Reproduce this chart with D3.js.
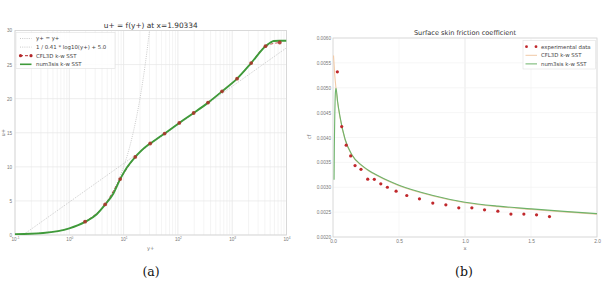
<!DOCTYPE html>
<html lang="en">
<head>
  <meta charset="UTF-8">
  <title>u+ and cf</title>
  <script src="https://d3js.org/d3.v7.min.js"></script>
  <style>
    body { margin: 0; background: #fff; }
    svg { width: 606px; height: 281px; display: block; font-family: "DejaVu Sans", sans-serif; }
  </style>
</head>
<body>
  <svg></svg>

  <script>
    // (a) velocity profile
    const refLinearYPlus = [0.1, 0.3, 1, 2, 3, 5, 7, 10, 14, 20, 25, 30];
    const refLinearUPlus = [0.1, 0.3, 1, 2, 3, 5, 7, 10, 14, 20, 25, 30];
    const refLogYPlus = [0.14, 10000];
    const refLogUPlus = [0, 27.46];

    const cfl3dYPlus = [1.95, 4.57, 8.65, 16.4, 30.9, 56.9, 106, 195, 359, 650, 1230, 2234, 4102, 7516];
    const cfl3dUPlus = [1.95, 4.49, 8.2, 11.46, 13.42, 14.88, 16.44, 17.9, 19.42, 21.07, 22.93, 25.22, 27.7, 28.24];

    const num3sisYPlus = [0.1, 0.33, 1, 1.95, 3.2, 4.57, 6.5, 8.65, 11.5, 16.4, 27, 30.9, 56.9, 106, 195, 359, 650, 1230, 2234, 4102, 5000, 5830, 7500, 10000];
    const num3sisUPlus = [0.1, 0.3, 0.98, 1.92, 3.05, 4.47, 6.1, 8.2, 9.9, 11.45, 13.1, 13.42, 14.88, 16.44, 17.9, 19.42, 21.07, 22.93, 25.22, 27.7, 28.2, 28.45, 28.5, 28.5];

    const yPlusTicks = [-1, 0, 1, 2, 3, 4];
    const uPlusTicks = [0, 5, 10, 15, 20, 25, 30];

    // (b) skin friction
    const expX = [0.033, 0.066, 0.100, 0.134, 0.167, 0.212, 0.263, 0.313, 0.362, 0.412, 0.478, 0.559, 0.655, 0.756, 0.855, 0.953, 1.052, 1.148, 1.249, 1.348, 1.446, 1.542, 1.640];
    const expCf = [0.00532, 0.00422, 0.003845, 0.00363, 0.003436, 0.00336, 0.003163, 0.00316, 0.003068, 0.0030, 0.002922, 0.002834, 0.002767, 0.002681, 0.002647, 0.002586, 0.002586, 0.002546, 0.00252, 0.00246, 0.00246, 0.002446, 0.00241];

    const cfl3dX = [0.004, 0.012, 0.023, 0.035, 0.053, 0.091, 0.142, 0.218, 0.3, 0.357, 0.412, 0.5, 0.75, 1.0, 1.25, 1.5, 1.75, 2.0];
    const cfl3dCf = [0.00565, 0.00530, 0.00498, 0.00470, 0.00440, 0.00396, 0.00365, 0.00343, 0.00328, 0.0032, 0.00313, 0.00303, 0.00283, 0.00269, 0.00261, 0.002556, 0.002505, 0.00246];

    const num3sisX = [0.008, 0.010, 0.014, 0.018, 0.023, 0.035, 0.053, 0.091, 0.142, 0.218, 0.3, 0.357, 0.412, 0.5, 0.75, 1.0, 1.25, 1.5, 1.75, 2.0];
    const num3sisCf = [0.00315, 0.0038, 0.0045, 0.0049, 0.00499, 0.00472, 0.00442, 0.00397, 0.00366, 0.00344, 0.00329, 0.00321, 0.00314, 0.00304, 0.00284, 0.0027, 0.00262, 0.002566, 0.002515, 0.00247];

    const xTicks = [0, 0.5, 1.0, 1.5, 2.0];
    const cfTicks = [0.0020, 0.0025, 0.0030, 0.0035, 0.0040, 0.0045, 0.0050, 0.0055, 0.0060];

    const green = `#3f9a3a`;
    const red = `#b5272a`;
    const svg = d3.select(`svg`);

    function frame(g, x0, x1, y0, y1) {
      g.append(`rect`)
        .attr(`x`, x0).attr(`y`, y1)
        .attr(`width`, x1 - x0).attr(`height`, y0 - y1)
        .attr(`fill`, `none`).attr(`stroke`, `#d4d4d4`).attr(`stroke-width`, 0.8);
    }

    // ---------- left plot ----------
    const L = {left: 15, right: 286.5, top: 30.5, bottom: 235};
    const xL = d3.scaleLog().domain([0.1, 10000]).range([L.left, L.right]);
    const yL = d3.scaleLinear().domain([0, 30]).range([L.bottom, L.top]);
    const gL = svg.append(`g`);

    // grid
    const minor = [];
    for (let e = -1; e < 4; e++) for (let m = 2; m < 10; m++) minor.push(m * Math.pow(10, e));
    gL.selectAll(`.minor`).data(minor).enter().append(`line`)
      .attr(`x1`, d => xL(d)).attr(`x2`, d => xL(d))
      .attr(`y1`, L.top).attr(`y2`, L.bottom)
      .attr(`stroke`, `#ececec`).attr(`stroke-width`, 0.6);
    gL.selectAll(`.major`).data(yPlusTicks).enter().append(`line`)
      .attr(`x1`, d => xL(Math.pow(10, d))).attr(`x2`, d => xL(Math.pow(10, d)))
      .attr(`y1`, L.top).attr(`y2`, L.bottom)
      .attr(`stroke`, `#e2e2e2`).attr(`stroke-width`, 0.7);
    gL.selectAll(`.hgrid`).data(uPlusTicks).enter().append(`line`)
      .attr(`x1`, L.left).attr(`x2`, L.right)
      .attr(`y1`, d => yL(d)).attr(`y2`, d => yL(d))
      .attr(`stroke`, `#e6e6e6`).attr(`stroke-width`, 0.7);
    frame(gL, L.left, L.right, L.bottom, L.top);

    svg.append(`clipPath`).attr(`id`, `clipL`).append(`rect`)
      .attr(`x`, L.left).attr(`y`, L.top).attr(`width`, L.right - L.left).attr(`height`, L.bottom - L.top);
    const plotL = gL.append(`g`).attr(`clip-path`, `url(#clipL)`);

    const lineL = d3.line().x(d => xL(d[0])).y(d => yL(d[1]));
    const smoothL = d3.line().x(d => xL(d[0])).y(d => yL(d[1])).curve(d3.curveMonotoneX);

    plotL.append(`path`).datum(d3.zip(refLinearYPlus, refLinearUPlus))
      .attr(`d`, smoothL).attr(`fill`, `none`).attr(`stroke`, `#bdbdbd`)
      .attr(`stroke-width`, 0.8).attr(`stroke-dasharray`, `1,1.2`);
    plotL.append(`path`).datum(d3.zip(refLogYPlus, refLogUPlus))
      .attr(`d`, lineL).attr(`fill`, `none`).attr(`stroke`, `#bdbdbd`)
      .attr(`stroke-width`, 0.8).attr(`stroke-dasharray`, `1,1.2`);

    plotL.append(`path`).datum(d3.zip(cfl3dYPlus, cfl3dUPlus))
      .attr(`d`, smoothL).attr(`fill`, `none`).attr(`stroke`, red)
      .attr(`stroke-width`, 0.8).attr(`stroke-dasharray`, `3,2`);
    plotL.append(`path`).datum(d3.zip(num3sisYPlus, num3sisUPlus))
      .attr(`d`, smoothL).attr(`fill`, `none`).attr(`stroke`, green).attr(`stroke-width`, 1.9);
    plotL.selectAll(`.pt`).data(d3.zip(cfl3dYPlus, cfl3dUPlus)).enter().append(`circle`)
      .attr(`cx`, d => xL(d[0])).attr(`cy`, d => yL(d[1])).attr(`r`, 1.9)
      .attr(`fill`, `#a8352a`).attr(`opacity`, 0.9);

    // axes
    const axXL = gL.append(`g`).attr(`transform`, `translate(0,${L.bottom})`)
      .call(d3.axisBottom(xL).tickValues(yPlusTicks.map(d => Math.pow(10, d))).tickSize(0).tickPadding(3));
    axXL.select(`.domain`).remove();
    axXL.selectAll(`.tick text`).each(function(d) {
      const t = d3.select(this).text(null).attr(`font-size`, 4.6).attr(`fill`, `#777`);
      t.append(`tspan`).text(`10`);
      t.append(`tspan`).attr(`dy`, -2.2).attr(`font-size`, 3.2).text(Math.round(Math.log10(d)));
    });
    const axYL = gL.append(`g`).attr(`transform`, `translate(${L.left},0)`)
      .call(d3.axisLeft(yL).tickValues(uPlusTicks).tickSize(0).tickPadding(3));
    axYL.select(`.domain`).remove();
    axYL.selectAll(`.tick text`).attr(`font-size`, 4.6).attr(`fill`, `#777`);

    gL.append(`text`).attr(`x`, (L.left + L.right) / 2).attr(`y`, 27.5).attr(`text-anchor`, `middle`)
      .attr(`font-size`, 7.4).attr(`fill`, `#333`).text(`u+ = f(y+) at x=1.90334`);
    gL.append(`text`).attr(`x`, (L.left + L.right) / 2).attr(`y`, 250).attr(`text-anchor`, `middle`)
      .attr(`font-size`, 5.2).attr(`fill`, `#777`).text(`y+`);
    gL.append(`text`).attr(`transform`, `translate(4.5,${(L.top + L.bottom) / 2}) rotate(-90)`)
      .attr(`text-anchor`, `middle`).attr(`font-size`, 5.2).attr(`fill`, `#777`).text(`u+`);

    // legend
    const legL = gL.append(`g`);
    legL.append(`rect`).attr(`x`, 16).attr(`y`, 32.5).attr(`width`, 99).attr(`height`, 36)
      .attr(`fill`, `#fff`).attr(`fill-opacity`, 0.85).attr(`stroke`, `#e0e0e0`).attr(`stroke-width`, 0.6);
    const legLItems = [`y+ = y+`, `1 / 0.41 * log10(y+) + 5.0`, `CFL3D k-w SST`, `num3sis k-w SST`];
    legLItems.forEach((name, i) => {
      const y = 38.5 + i * 8.6;
      if (i < 2) {
        legL.append(`line`).attr(`x1`, 20).attr(`x2`, 31.5).attr(`y1`, y).attr(`y2`, y)
          .attr(`stroke`, `#bdbdbd`).attr(`stroke-width`, 0.8).attr(`stroke-dasharray`, `1,1.2`);
      } else if (i === 2) {
        legL.append(`line`).attr(`x1`, 20).attr(`x2`, 31.5).attr(`y1`, y).attr(`y2`, y)
          .attr(`stroke`, red).attr(`stroke-width`, 1).attr(`stroke-dasharray`, `3,2`);
        [20.5, 31].forEach(cx => legL.append(`circle`).attr(`cx`, cx).attr(`cy`, y).attr(`r`, 1.6).attr(`fill`, red));
      } else {
        legL.append(`line`).attr(`x1`, 20).attr(`x2`, 31.5).attr(`y1`, y).attr(`y2`, y)
          .attr(`stroke`, green).attr(`stroke-width`, 1.6);
      }
      legL.append(`text`).attr(`x`, 36).attr(`y`, y + 1.9).attr(`font-size`, 5.4).attr(`fill`, `#444`).text(name);
    });

    // ---------- right plot ----------
    const R = {left: 333, right: 597, top: 38, bottom: 237};
    const xR = d3.scaleLinear().domain([0, 2]).range([R.left, R.right]);
    const yR = d3.scaleLinear().domain([0.0020, 0.0060]).range([R.bottom, R.top]);
    const gR = svg.append(`g`);

    gR.selectAll(`.vgrid`).data(xTicks).enter().append(`line`)
      .attr(`x1`, d => xR(d)).attr(`x2`, d => xR(d)).attr(`y1`, R.top).attr(`y2`, R.bottom)
      .attr(`stroke`, d => d === 1 ? `#e0e0e0` : `#f3f3f3`).attr(`stroke-width`, 0.7);
    gR.selectAll(`.hgrid`).data(cfTicks).enter().append(`line`)
      .attr(`x1`, R.left).attr(`x2`, R.right).attr(`y1`, d => yR(d)).attr(`y2`, d => yR(d))
      .attr(`stroke`, `#f2f2f2`).attr(`stroke-width`, 0.7);
    frame(gR, R.left, R.right, R.bottom, R.top);

    const lineR = d3.line().x(d => xR(d[0])).y(d => yR(d[1])).curve(d3.curveMonotoneX);
    gR.append(`path`).datum(d3.zip(cfl3dX, cfl3dCf))
      .attr(`d`, lineR).attr(`fill`, `none`).attr(`stroke`, `#f1c9a6`).attr(`stroke-width`, 1.1);
    gR.append(`path`).datum(d3.zip(num3sisX, num3sisCf))
      .attr(`d`, lineR).attr(`fill`, `none`).attr(`stroke`, `#6db36a`).attr(`stroke-width`, 1.1);
    gR.selectAll(`.pt`).data(d3.zip(expX, expCf)).enter().append(`circle`)
      .attr(`cx`, d => xR(d[0])).attr(`cy`, d => yR(d[1])).attr(`r`, 1.6).attr(`fill`, `#c0282c`);

    const axXR = gR.append(`g`).attr(`transform`, `translate(0,${R.bottom})`)
      .call(d3.axisBottom(xR).tickValues(xTicks).tickFormat(d3.format(`.1f`)).tickSize(0).tickPadding(3));
    axXR.select(`.domain`).remove();
    axXR.selectAll(`.tick text`).attr(`font-size`, 4.8).attr(`fill`, `#777`);
    const axYR = gR.append(`g`).attr(`transform`, `translate(${R.left},0)`)
      .call(d3.axisLeft(yR).tickValues(cfTicks).tickFormat(d3.format(`.4f`)).tickSize(0).tickPadding(2));
    axYR.select(`.domain`).remove();
    axYR.selectAll(`.tick text`).attr(`font-size`, 4.7).attr(`fill`, `#777`);

    gR.append(`text`).attr(`x`, (R.left + R.right) / 2).attr(`y`, 35).attr(`text-anchor`, `middle`)
      .attr(`font-size`, 6.6).attr(`fill`, `#333`).text(`Surface skin friction coefficient`);
    gR.append(`text`).attr(`x`, (R.left + R.right) / 2).attr(`y`, 250).attr(`text-anchor`, `middle`)
      .attr(`font-size`, 5.2).attr(`fill`, `#777`).text(`x`);
    gR.append(`text`).attr(`transform`, `translate(311,137) rotate(-90)`)
      .attr(`text-anchor`, `middle`).attr(`font-size`, 5.2).attr(`fill`, `#777`).text(`cf`);

    const legR = gR.append(`g`);
    legR.append(`rect`).attr(`x`, 523).attr(`y`, 40.5).attr(`width`, 72.5).attr(`height`, 28.5)
      .attr(`fill`, `#fff`).attr(`stroke`, `#e0e0e0`).attr(`stroke-width`, 0.6);
    const legRItems = [`experimental data`, `CFL3D k-w SST`, `num3sis k-w SST`];
    legRItems.forEach((name, i) => {
      const y = 46.7 + i * 8.6;
      if (i === 0) {
        [526.5, 536].forEach(cx => legR.append(`circle`).attr(`cx`, cx).attr(`cy`, y).attr(`r`, 1.4).attr(`fill`, `#c0282c`));
      } else {
        legR.append(`line`).attr(`x1`, 525.5).attr(`x2`, 537).attr(`y1`, y).attr(`y2`, y)
          .attr(`stroke`, i === 1 ? `#f1c9a6` : `#6db36a`).attr(`stroke-width`, 1);
      }
      legR.append(`text`).attr(`x`, 541).attr(`y`, y + 1.9).attr(`font-size`, 5.4).attr(`fill`, `#444`).text(name);
    });

    // captions
    svg.append(`text`).attr(`x`, 151).attr(`y`, 276).attr(`text-anchor`, `middle`)
      .attr(`font-family`, `"DejaVu Serif", serif`).attr(`font-size`, 12.5).attr(`fill`, `#111`).text(`(a)`);
    svg.append(`text`).attr(`x`, 464).attr(`y`, 276).attr(`text-anchor`, `middle`)
      .attr(`font-family`, `"DejaVu Serif", serif`).attr(`font-size`, 12.5).attr(`fill`, `#111`).text(`(b)`);
  </script>
</body>
</html>
